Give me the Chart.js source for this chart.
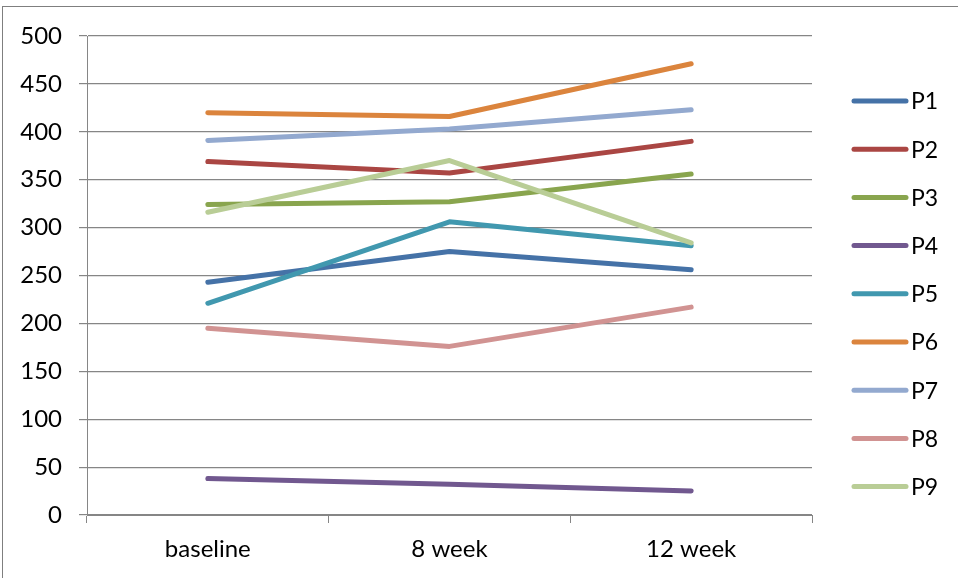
<!DOCTYPE html>
<html>
<head>
<meta charset="utf-8">
<script src="https://cdn.jsdelivr.net/npm/chart.js@4.4.1/dist/chart.umd.min.js"></script>
<style>
    html, body { margin: 0; padding: 0; background: #fff; overflow: hidden; }
    #frame { position: absolute; left: 2px; top: 6px; width: 1200px; height: 1000px; border: 1px solid #7f7f7f; }
    #wrap { position: absolute; left: 0; top: 0; width: 958px; height: 578px; }
</style>
</head>
<body>
<div id="frame"></div>
<div id="wrap"><canvas id="myChart"></canvas></div>
<script>
// data
const categories = ["baseline", "8 week", "12 week"];
const seriesNames = ["P1", "P2", "P3", "P4", "P5", "P6", "P7", "P8", "P9"];
const p1 = [243, 275, 256];
const p2 = [369, 357, 390];
const p3 = [324, 327, 356];
const p4 = [38, 32, 25];
const p5 = [221, 306, 281];
const p6 = [420, 416, 471];
const p7 = [391, 403, 423];
const p8 = [195, 176, 217];
const p9 = [316, 370, 284];
const yTicks = [0, 50, 100, 150, 200, 250, 300, 350, 400, 450, 500];

const colors = ["#4572A7", "#AA4643", "#89A54E", "#71588F", "#4198AF",
                "#DB843D", "#93A9CF", "#D19392", "#B9CD96"];
const seriesValues = [p1, p2, p3, p4, p5, p6, p7, p8, p9];
const gridColor = "#868686";

// legend drawn on the right, one line sample per dataset
const sideLegend = {
    id: "sideLegend",
    afterDraw(chart) {
        const ctx = chart.ctx;
        ctx.save();
        chart.data.datasets.forEach((ds, i) => {
            const y = 101 + i * 48.2;
            ctx.strokeStyle = ds.borderColor;
            ctx.lineWidth = 5;
            ctx.lineCap = "round";
            ctx.beginPath();
            ctx.moveTo(854, y);
            ctx.lineTo(906, y);
            ctx.stroke();
            ctx.fillStyle = "#000";
            ctx.font = "23px Lato";
            ctx.textAlign = "left";
            ctx.textBaseline = "middle";
            ctx.fillText(ds.label, 911, y + 1);
        });
        ctx.restore();
    }
};

const ctx = document.getElementById("myChart").getContext("2d");
new Chart(ctx, {
    type: "line",
    data: {
        labels: categories,
        datasets: seriesNames.map((name, i) => ({
            label: name,
            data: seriesValues[i],
            borderColor: colors[i],
            backgroundColor: colors[i],
            borderWidth: 5,
            borderCapStyle: "round",
            borderJoinStyle: "round",
            pointRadius: 0,
            tension: 0,
            order: seriesNames.length - i   // later series drawn on top, like the original
        }))
    },
    options: {
        responsive: true,
        maintainAspectRatio: false,
        animation: false,
        layout: { padding: { left: 0, top: 36, right: 146, bottom: 0 } },
        plugins: {
            legend: { display: false },
            tooltip: { enabled: false }
        },
        scales: {
            x: {
                offset: true,
                grid: { offset: true, drawOnChartArea: false, drawTicks: true, tickLength: 8, color: gridColor },
                border: { display: true, color: gridColor },
                ticks: { color: "#000", font: { family: "Lato", size: 24 }, padding: 12, maxRotation: 0 },
                afterFit(scale) { scale.height = 63; }
            },
            y: {
                min: 0,
                max: 500,
                afterBuildTicks(scale) { scale.ticks = yTicks.map(v => ({ value: v })); },
                grid: { color: gridColor, lineWidth: 1.2, tickLength: 8 },
                border: { display: true, color: gridColor },
                ticks: { color: "#000", font: { family: "Lato", size: 24 }, padding: 17 },
                afterFit(scale) { scale.width = 87; }
            }
        }
    },
    plugins: [sideLegend]
});
</script>
</body>
</html>
